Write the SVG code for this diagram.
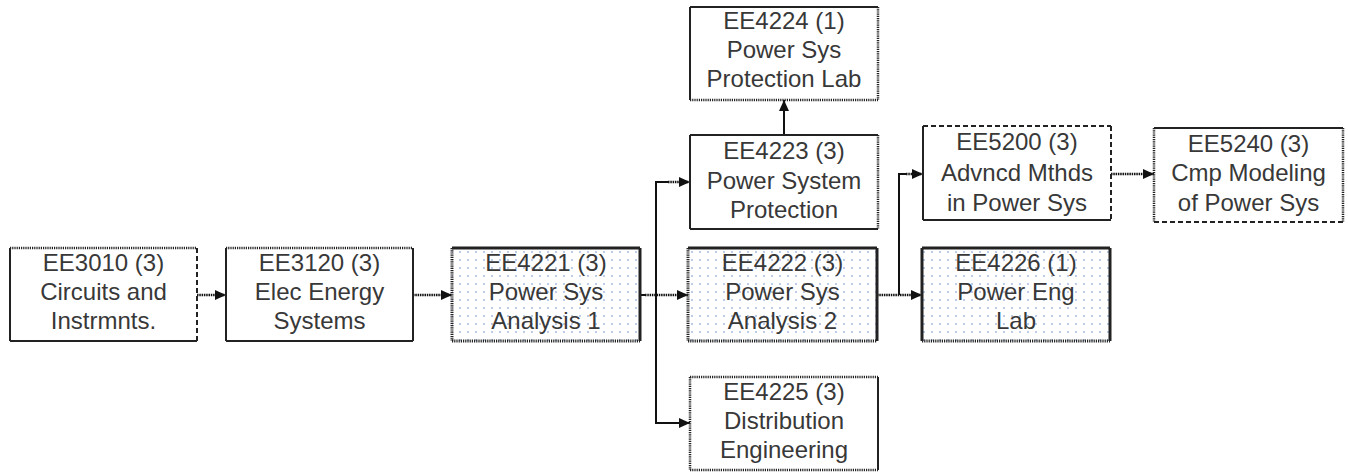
<svg xmlns="http://www.w3.org/2000/svg" width="1348" height="473" viewBox="0 0 1348 473">
<style>
  .bg{fill:#ffffff}
  .fill{fill:#ffffff}
  .dots{fill:url(#dotpat)}
  .s{stroke:#222;stroke-width:2;fill:none}
  .d{stroke:#222;stroke-width:2.5;fill:none;stroke-dasharray:1.2 1}
  .ds{stroke:#222;stroke-width:2;fill:none;stroke-dasharray:5 3}
  .t{stroke-width:3}
  .lbl{font-family:"Liberation Sans",Arial,sans-serif;font-size:24px;fill:#383838;text-anchor:middle}
  .c{stroke:#111;stroke-width:2;fill:none}
  .cd{stroke:#111;stroke-width:2.5;fill:none;stroke-dasharray:1.5 0.8}
</style>
<defs>
  <pattern id="dotpat" x="0" y="0" width="8" height="8" patternUnits="userSpaceOnUse">
    <rect width="8" height="8" fill="#ffffff"/>
    <circle cx="4" cy="4" r="0.9" fill="#9fb4dc"/>
  </pattern>
  <marker id="arr" markerUnits="userSpaceOnUse" markerWidth="12" markerHeight="10" refX="11" refY="5" orient="auto">
    <path d="M0,0 L11,5 L0,10 z" fill="#111"/>
  </marker>
</defs>
<rect class="bg" width="1348" height="473"/>

<g id="connectors">
  <!-- EE3010 -> EE3120 -->
  <line class="cd" x1="197" y1="295" x2="226" y2="295" marker-end="url(#arr)"/>
  <!-- EE3120 -> EE4221 -->
  <line class="cd" x1="413" y1="295" x2="452" y2="295" marker-end="url(#arr)"/>
  <!-- EE4221 -> EE4222 -->
  <line class="c" x1="623" y1="295" x2="645" y2="295"/>
  <line class="cd" x1="645" y1="295" x2="688" y2="295" marker-end="url(#arr)"/>
  <!-- EE4221 branch to EE4223 and EE4225 -->
  <polyline class="c" points="656,295 656,182 668,182"/>
  <line class="cd" x1="668" y1="182" x2="690" y2="182" marker-end="url(#arr)"/>
  <polyline class="c" points="656,295 656,423 690,423" marker-end="url(#arr)"/>
  <!-- EE4223 -> EE4224 -->
  <line class="c" x1="784" y1="135" x2="784" y2="100" marker-end="url(#arr)"/>
  <!-- EE4222 -> EE4226 -->
  <line class="cd" x1="877" y1="295" x2="922" y2="295" marker-end="url(#arr)"/>
  <!-- EE4222 branch to EE5200 -->
  <polyline class="c" points="899,295 899,174 906,174"/>
  <line class="cd" x1="906" y1="174" x2="923" y2="174" marker-end="url(#arr)"/>
  <!-- EE5200 -> EE5240 -->
  <line class="cd" x1="1111" y1="174" x2="1154" y2="174" marker-end="url(#arr)"/>
</g>

<g id="EE3010">
  <rect class="fill" x="10" y="248" width="187" height="93"/>
  <line class="d" x1="10" y1="248" x2="197" y2="248"/>
  <line class="s" x1="10" y1="248" x2="10" y2="341"/>
  <line class="ds" x1="197" y1="248" x2="197" y2="341"/>
  <line class="s" x1="10" y1="341" x2="197" y2="341"/>
  <text class="lbl" x="103.5" y="271">EE3010 (3)</text>
  <text class="lbl" x="103.5" y="300">Circuits and</text>
  <text class="lbl" x="103.5" y="329">Instrmnts.</text>
</g>

<g id="EE3120">
  <rect class="fill" x="226" y="248" width="187" height="93"/>
  <line class="d" x1="226" y1="248" x2="413" y2="248"/>
  <line class="s" x1="226" y1="248" x2="226" y2="341"/>
  <line class="s" x1="413" y1="248" x2="413" y2="341"/>
  <line class="s" x1="226" y1="341" x2="413" y2="341"/>
  <text class="lbl" x="319.5" y="271">EE3120 (3)</text>
  <text class="lbl" x="319.5" y="300">Elec Energy</text>
  <text class="lbl" x="319.5" y="329">Systems</text>
</g>

<g id="EE4221">
  <rect class="dots" x="452" y="248" width="188" height="93"/>
  <line class="s t" x1="452" y1="248" x2="640" y2="248"/>
  <line class="d t" x1="452" y1="248" x2="452" y2="341"/>
  <line class="s t" x1="640" y1="248" x2="640" y2="341"/>
  <line class="d t" x1="452" y1="341" x2="640" y2="341"/>
  <text class="lbl" x="546" y="271">EE4221 (3)</text>
  <text class="lbl" x="546" y="300">Power Sys</text>
  <text class="lbl" x="546" y="329">Analysis 1</text>
</g>

<g id="EE4222">
  <rect class="dots" x="688" y="248" width="189" height="93"/>
  <line class="s t" x1="688" y1="248" x2="877" y2="248"/>
  <line class="d t" x1="688" y1="248" x2="688" y2="341"/>
  <line class="s t" x1="877" y1="248" x2="877" y2="341"/>
  <line class="d t" x1="688" y1="341" x2="877" y2="341"/>
  <text class="lbl" x="782.5" y="271">EE4222 (3)</text>
  <text class="lbl" x="782.5" y="300">Power Sys</text>
  <text class="lbl" x="782.5" y="329">Analysis 2</text>
</g>

<g id="EE4226">
  <rect class="dots" x="922" y="248" width="188" height="93"/>
  <line class="s t" x1="922" y1="248" x2="1110" y2="248"/>
  <line class="s t" x1="922" y1="248" x2="922" y2="341"/>
  <line class="s t" x1="1110" y1="248" x2="1110" y2="341"/>
  <line class="d t" x1="922" y1="341" x2="1110" y2="341"/>
  <text class="lbl" x="1016" y="271">EE4226 (1)</text>
  <text class="lbl" x="1016" y="300">Power Eng</text>
  <text class="lbl" x="1016" y="329">Lab</text>
</g>

<g id="EE4223">
  <rect class="fill" x="690" y="135" width="188" height="94"/>
  <line class="s" x1="690" y1="135" x2="878" y2="135"/>
  <line class="s" x1="690" y1="135" x2="690" y2="229"/>
  <line class="d" x1="878" y1="135" x2="878" y2="229"/>
  <line class="s" x1="690" y1="229" x2="878" y2="229"/>
  <text class="lbl" x="784" y="159">EE4223 (3)</text>
  <text class="lbl" x="784" y="189">Power System</text>
  <text class="lbl" x="784" y="218">Protection</text>
</g>

<g id="EE4224">
  <rect class="fill" x="690" y="7" width="188" height="93"/>
  <line class="s" x1="690" y1="7" x2="878" y2="7"/>
  <line class="s" x1="690" y1="7" x2="690" y2="100"/>
  <line class="d" x1="878" y1="7" x2="878" y2="100"/>
  <line class="d" x1="690" y1="100" x2="878" y2="100"/>
  <text class="lbl" x="784" y="29">EE4224 (1)</text>
  <text class="lbl" x="784" y="58">Power Sys</text>
  <text class="lbl" x="784" y="87">Protection Lab</text>
</g>

<g id="EE4225">
  <rect class="fill" x="690" y="377" width="188" height="93"/>
  <line class="d" x1="690" y1="377" x2="878" y2="377"/>
  <line class="d" x1="690" y1="377" x2="690" y2="470"/>
  <line class="s" x1="878" y1="377" x2="878" y2="470"/>
  <line class="d" x1="690" y1="470" x2="878" y2="470"/>
  <text class="lbl" x="784" y="400">EE4225 (3)</text>
  <text class="lbl" x="784" y="429">Distribution</text>
  <text class="lbl" x="784" y="458">Engineering</text>
</g>

<g id="EE5200">
  <rect class="fill" x="923" y="126" width="188" height="94"/>
  <line class="ds" x1="923" y1="126" x2="1111" y2="126"/>
  <line class="s" x1="923" y1="126" x2="923" y2="220"/>
  <line class="ds" x1="1111" y1="126" x2="1111" y2="220"/>
  <line class="s" x1="923" y1="220" x2="1111" y2="220"/>
  <text class="lbl" x="1017" y="150">EE5200 (3)</text>
  <text class="lbl" x="1017" y="181">Advncd Mthds</text>
  <text class="lbl" x="1017" y="211">in Power Sys</text>
</g>

<g id="EE5240">
  <rect class="fill" x="1154" y="128" width="189" height="94"/>
  <line class="s" x1="1154" y1="128" x2="1343" y2="128"/>
  <line class="d" x1="1154" y1="128" x2="1154" y2="222"/>
  <line class="d" x1="1343" y1="128" x2="1343" y2="222"/>
  <line class="ds" x1="1154" y1="222" x2="1343" y2="222"/>
  <text class="lbl" x="1248.5" y="152">EE5240 (3)</text>
  <text class="lbl" x="1248.5" y="181">Cmp Modeling</text>
  <text class="lbl" x="1248.5" y="211">of Power Sys</text>
</g>
</svg>
